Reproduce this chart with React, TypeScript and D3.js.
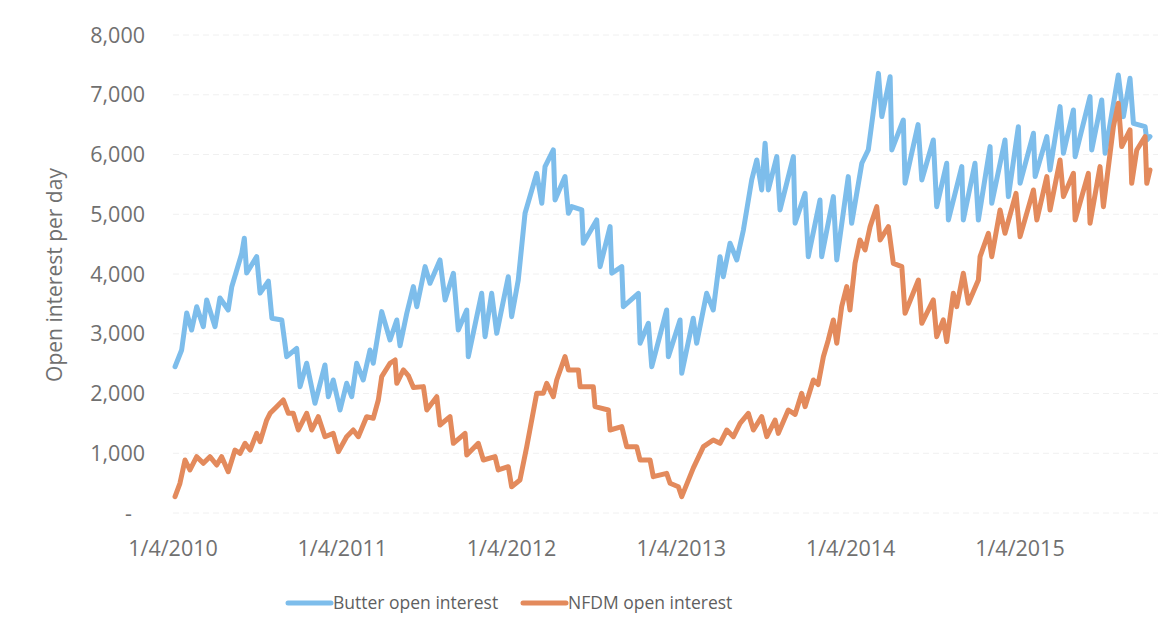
import React from "react";
import * as d3 from "d3";

// [decimal year, open interest]
const butterPoints: [number, number][] = [
[2010.012,2448],[2010.051,2728],[2010.081,3348],[2010.110,3063],[2010.140,3453],[2010.179,3119],[2010.199,3566],[2010.248,3119],[2010.277,3599],[2010.326,3398],[2010.347,3788],[2010.406,4347],[2010.421,4598],[2010.435,4017],[2010.494,4290],[2010.514,3680],[2010.563,3880],[2010.584,3260],[2010.642,3231],[2010.671,2616],[2010.730,2756],[2010.750,2114],[2010.789,2506],[2010.838,1836],[2010.897,2477],[2010.917,1947],[2010.946,2226],[2010.986,1724],[2011.025,2171],[2011.055,1947],[2011.084,2506],[2011.123,2226],[2011.163,2728],[2011.182,2506],[2011.232,3370],[2011.281,2896],[2011.321,3231],[2011.340,2800],[2011.380,3343],[2011.419,3788],[2011.439,3453],[2011.488,4123],[2011.517,3845],[2011.576,4235],[2011.606,3565],[2011.655,4012],[2011.684,3063],[2011.734,3398],[2011.743,2616],[2011.822,3677],[2011.842,2951],[2011.881,3677],[2011.911,3007],[2011.979,3955],[2011.999,3286],[2012.038,3900],[2012.078,5016],[2012.147,5685],[2012.177,5183],[2012.196,5797],[2012.245,6076],[2012.255,5239],[2012.314,5630],[2012.334,5016],[2012.354,5127],[2012.413,5072],[2012.422,4514],[2012.501,4904],[2012.521,4123],[2012.580,4793],[2012.590,4012],[2012.649,4123],[2012.658,3453],[2012.747,3677],[2012.757,2841],[2012.806,3175],[2012.826,2448],[2012.914,3398],[2012.924,2616],[2012.993,3231],[2013.003,2338],[2013.071,3260],[2013.091,2841],[2013.150,3677],[2013.189,3398],[2013.229,4290],[2013.248,3955],[2013.288,4514],[2013.328,4235],[2013.367,4737],[2013.416,5574],[2013.446,5909],[2013.475,5407],[2013.495,6188],[2013.514,5407],[2013.564,5964],[2013.583,5072],[2013.662,5964],[2013.672,4849],[2013.731,5351],[2013.750,4290],[2013.819,5239],[2013.829,4290],[2013.898,5295],[2013.918,4235],[2013.986,5630],[2014.006,4849],[2014.066,5853],[2014.104,6076],[2014.164,7358],[2014.184,6634],[2014.233,7302],[2014.243,6076],[2014.311,6578],[2014.321,5518],[2014.398,6500],[2014.420,5574],[2014.488,6243],[2014.508,5127],[2014.567,5853],[2014.577,4904],[2014.656,5797],[2014.665,4904],[2014.734,5853],[2014.754,4904],[2014.823,6132],[2014.833,5183],[2014.911,6243],[2014.931,5295],[2014.990,6466],[2015.000,5518],[2015.079,6355],[2015.089,5630],[2015.158,6299],[2015.177,5741],[2015.236,6801],[2015.256,6020],[2015.315,6746],[2015.325,5964],[2015.413,6969],[2015.423,6076],[2015.482,6913],[2015.502,6020],[2015.580,7331],[2015.610,6634],[2015.649,7275],[2015.669,6522],[2015.738,6466],[2015.748,6243],[2015.767,6300]
];

const nfdmPoints: [number, number][] = [
[2010.012,273],[2010.041,497],[2010.071,887],[2010.100,720],[2010.140,943],[2010.179,832],[2010.218,943],[2010.258,803],[2010.287,943],[2010.326,691],[2010.366,1054],[2010.396,999],[2010.425,1166],[2010.455,1054],[2010.494,1333],[2010.514,1194],[2010.553,1556],[2010.573,1668],[2010.612,1780],[2010.651,1891],[2010.681,1668],[2010.710,1668],[2010.740,1389],[2010.789,1668],[2010.819,1389],[2010.858,1612],[2010.897,1277],[2010.946,1333],[2010.976,1026],[2011.025,1277],[2011.064,1389],[2011.094,1277],[2011.143,1612],[2011.182,1585],[2011.212,1891],[2011.232,2282],[2011.281,2506],[2011.311,2561],[2011.321,2171],[2011.360,2394],[2011.389,2300],[2011.419,2100],[2011.478,2115],[2011.498,1724],[2011.557,1947],[2011.576,1473],[2011.635,1612],[2011.655,1166],[2011.724,1333],[2011.734,971],[2011.802,1166],[2011.832,887],[2011.901,943],[2011.920,720],[2011.979,775],[2011.999,440],[2012.048,552],[2012.088,1110],[2012.147,2003],[2012.186,2003],[2012.206,2171],[2012.245,1947],[2012.265,2226],[2012.314,2616],[2012.334,2394],[2012.393,2394],[2012.403,2115],[2012.481,2115],[2012.491,1780],[2012.570,1724],[2012.580,1389],[2012.649,1445],[2012.678,1110],[2012.737,1110],[2012.757,887],[2012.816,887],[2012.835,608],[2012.914,664],[2012.934,497],[2012.983,440],[2013.003,273],[2013.071,750],[2013.131,1110],[2013.189,1222],[2013.229,1166],[2013.269,1389],[2013.308,1277],[2013.347,1501],[2013.396,1668],[2013.426,1389],[2013.475,1612],[2013.505,1277],[2013.554,1556],[2013.573,1333],[2013.632,1724],[2013.672,1650],[2013.711,2003],[2013.731,1780],[2013.780,2226],[2013.808,2150],[2013.839,2616],[2013.868,2896],[2013.898,3231],[2013.918,2841],[2013.947,3453],[2013.977,3788],[2013.996,3398],[2014.026,4179],[2014.055,4570],[2014.085,4402],[2014.115,4793],[2014.154,5127],[2014.174,4570],[2014.223,4793],[2014.252,4179],[2014.302,4123],[2014.321,3343],[2014.400,3900],[2014.420,3175],[2014.488,3566],[2014.508,2951],[2014.547,3231],[2014.567,2868],[2014.606,3677],[2014.626,3453],[2014.665,4012],[2014.695,3510],[2014.754,3900],[2014.764,4290],[2014.813,4682],[2014.833,4290],[2014.882,5072],[2014.911,4682],[2014.976,5350],[2015.000,4625],[2015.079,5407],[2015.099,4904],[2015.158,5630],[2015.177,5072],[2015.236,5909],[2015.256,5295],[2015.315,5685],[2015.325,4904],[2015.403,5685],[2015.413,4849],[2015.472,5797],[2015.492,5127],[2015.551,6466],[2015.580,6857],[2015.600,6132],[2015.649,6411],[2015.659,5518],[2015.689,6076],[2015.738,6299],[2015.748,5518],[2015.767,5741]
];

const seriesNames = ["Butter open interest", "NFDM open interest"];
const seriesColors = ["#7dbdeb", "#e38a5c"];
const yTicks = [0, 1000, 2000, 3000, 4000, 5000, 6000, 7000, 8000];
const xTickYears = [2010, 2011, 2012, 2013, 2014, 2015];
const yTitle = "Open interest per day";

const W = 1172, H = 637;
const PLOT = { left: 173, right: 1150, top: 35, bottom: 513 };
const BASE = new Date(2010, 0, 4).getTime();
const toDate = (t: number) => new Date(BASE + (t - 2010) * 365.25 * 864e5);

export default function App() {
  const x = d3.scaleTime()
    .domain([toDate(2010), toDate(butterPoints[butterPoints.length - 1][0])])
    .range([PLOT.left, PLOT.right]);
  const y = d3.scaleLinear().domain([0, 8000]).range([PLOT.bottom, PLOT.top]);
  const line = d3.line<[number, number]>()
    .x(d => x(toDate(d[0])))
    .y(d => y(d[1]))
    .curve(d3.curveLinear);
  const fmt = d3.format(",");
  const dateFmt = d3.timeFormat("%-m/%-d/%Y");
  const font = "'Open Sans', 'Noto Sans', sans-serif";
  const series = [butterPoints, nfdmPoints];

  return (
    <>
      <style>{`body{margin:0;background:#fff}`}</style>
      <svg width={W} height={H} style={{ display: "block", background: "#fff" }}>
        {yTicks.map(v => (
          <line key={"g" + v} x1={PLOT.left} x2={PLOT.right + 8} y1={y(v)} y2={y(v)}
            stroke="#f0f0f0" strokeWidth={1} strokeDasharray="6,4" />
        ))}
        {yTicks.map(v => (
          <text key={"y" + v} x={v === 0 ? 132 : 145} y={y(v)} dy="0.36em" textAnchor="end"
            fontFamily={font} fontSize={21.5} fill="#707070">
            {v === 0 ? "-" : fmt(v)}
          </text>
        ))}
        {xTickYears.map(yr => {
          const d = new Date(yr, 0, 4);
          return (
            <text key={"x" + yr} x={x(d)} y={556} textAnchor="middle"
              fontFamily={font} fontSize={21.5} fill="#707070">
              {dateFmt(d)}
            </text>
          );
        })}
        <text transform={`translate(62,275) rotate(-90)`} textAnchor="middle"
          fontFamily={font} fontSize={21} fill="#707070">{yTitle}</text>
        {series.map((s, i) => (
          <path key={"s" + i} d={line(s) || ""} fill="none" stroke={seriesColors[i]}
            strokeWidth={5} strokeLinejoin="round" strokeLinecap="round" />
        ))}
        {seriesNames.map((n, i) => {
          const x0 = i === 0 ? 288 : 523;
          return (
            <g key={"l" + i}>
              <line x1={x0} x2={x0 + 43} y1={603} y2={603} stroke={seriesColors[i]}
                strokeWidth={5} strokeLinecap="round" />
              <text x={x0 + 45} y={603} dy="0.36em" fontFamily={font} fontSize={17.5} fill="#5f5f5f">{n}</text>
            </g>
          );
        })}
      </svg>
    </>
  );
}
